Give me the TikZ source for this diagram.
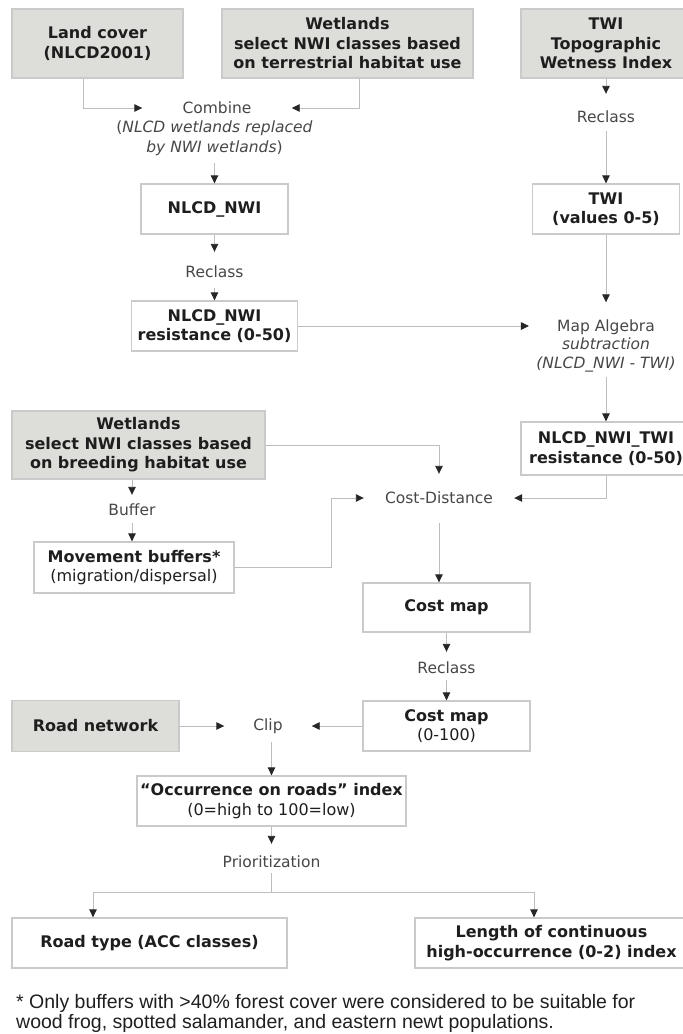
\documentclass[tikz,border=0pt]{standalone}
\usepackage{fontspec}
\setmainfont{DejaVu Sans}
\newfontfamily\notefont{Liberation Sans}
\usetikzlibrary{arrows.meta,calc}
\definecolor{linegray}{HTML}{BDBDBD}
\definecolor{boxline}{HTML}{CACACA}
\definecolor{boxfill}{HTML}{DDDDD9}
\definecolor{optext}{HTML}{474747}
\definecolor{boldtext}{HTML}{1E1E1E}
\begin{document}
\begin{tikzpicture}[x=1pt,y=-1pt,
  font=\fontsize{15.5}{19.5}\selectfont,
  box/.style={draw=boxline, line width=1.3pt, fill=white, align=center, inner sep=0pt,
    text=boldtext, font=\fontsize{16}{19.5}\selectfont\bfseries},
  inbox/.style={box, fill=boxfill},
  sz/.style 2 args={minimum width=#1pt, minimum height=#2pt},
  op/.style={inner sep=0pt, text=optext, align=center},
  arr/.style={draw=linegray, line width=0.9pt, -{Triangle[length=8pt,width=7.5pt,color=black!85]}},
  ln/.style={draw=linegray, line width=0.9pt}
]
\clip (0,0) rectangle (683,1034);
\fill[white] (0,0) rectangle (683,1034);

% input boxes
\node[inbox, sz={171}{69}] (land) at (97.5,43.5) {Land cover\\(NLCD2001)};
\node[inbox, sz={251}{69}] (wetT) at (347.5,43.5) {Wetlands\\select NWI classes based\\on terrestrial habitat use};
\node[inbox, sz={170}{69}] (twi) at (606,43.5) {TWI\\Topographic\\Wetness Index};
\node[inbox, sz={253}{68}] (wetB) at (138.5,445) {Wetlands\\select NWI classes based\\on breeding habitat use};
\node[inbox, sz={167}{51}] (road) at (95.5,726) {Road network};

% result boxes
\node[box, sz={147}{50}] (nlcdnwi) at (214.5,209) {NLCD\_NWI};
\node[box, sz={166}{50}] (nlcdres) at (214.5,326) {NLCD\_NWI\\resistance (0-50)};
\node[box, sz={147}{50}] (twiv) at (606,209) {TWI\\(values 0-5)};
\node[box, sz={170}{53}] (ntres) at (606,448.5) {NLCD\_NWI\_TWI\\resistance (0-50)};
\node[box, sz={200}{51}] (move) at (134,567.5) {Movement buffers*\\{\mdseries (migration/dispersal)}};
\node[box, sz={167}{49}] (cost1) at (446.5,607.5) {Cost map};
\node[box, sz={167}{50}] (cost2) at (446.5,726) {Cost map\\{\mdseries (0-100)}};
\node[box, sz={269}{50}] (occ) at (271.5,801) {“Occurrence on roads” index\\{\mdseries (0=high to 100=low)}};
\node[box, sz={275}{50}] (rtype) at (149.5,943) {Road type (ACC classes)};
\node[box, sz={273}{50}] (length) at (551.5,943) {Length of continuous\\high-occurrence (0-2) index};

% operations
\node[op, minimum width=149pt] (comb) at (217,108) {Combine};
\node[op] (combsub) at (214.5,138) {(\textit{NLCD wetlands replaced}\\\textit{by NWI wetlands})};
\node[op] (rc1) at (606,117) {Reclass};
\node[op] (rc2) at (214.5,272) {Reclass};
\node[op] (ma1) at (606,327) {Map Algebra};
\node[op] (ma2) at (606,355) {\textit{subtraction}\\\textit{(NLCD\_NWI - TWI)}};
\node[op, minimum width=150pt] (costd) at (439,498) {Cost-Distance};
\node[op] (buf) at (132,510) {Buffer};
\node[op] (rc3) at (446.5,668) {Reclass};
\node[op, minimum width=87pt] (clip) at (268,726) {Clip};
\node[op] (prio) at (271.5,862) {Prioritization};
\coordinate (branch) at (271.5,892);

% connectors
\draw[arr] ([xshift=-14.5pt]land.south) |- (comb.west);
\draw[arr] ([xshift=11.5pt]wetT.south) |- (comb.east);
\draw[arr, shorten <=8pt] (combsub.south) -- (combsub.south |- nlcdnwi.north);
\draw[arr, shorten >=14pt] (nlcdnwi.south) -- (rc2.north);
\draw[arr, shorten <=10pt] (rc2.south) -- (nlcdres.north);
\draw[arr, shorten >=28pt] (nlcdres.east) -- (nlcdres.east -| ma1.west);
\draw[arr, shorten >=17pt] (twi.south) -- (rc1.north);
\draw[arr, shorten <=8pt] (rc1.south) -- (twiv.north);
\draw[arr, shorten >=17pt] (twiv.south) -- (ma1.north);
\draw[arr, shorten <=4pt] (ma2.south) -- (ntres.north);
\draw[arr] (ntres.south) |- (costd.east);
\draw[arr, shorten >=18pt] (wetB.east) -| (costd.north);
\draw[arr] (move.east) -- ++(97,0) |- (costd.west);
\draw[arr, shorten >=9pt] (buf.north |- wetB.south) -- (buf.north);
\draw[arr, shorten <=7pt] (buf.south) -- (buf.south |- move.north);
\draw[arr, shorten <=19pt] (costd.south) -- (costd.south |- cost1.north);
\draw[arr, shorten >=10pt] (cost1.south) -- (rc3.north);
\draw[arr, shorten <=6pt] (rc3.south) -- (cost2.north);
\draw[arr] (road.east) -- (road.east -| clip.west);
\draw[arr] (cost2.west) -- (cost2.west -| clip.east);
\draw[arr, shorten <=8pt] (occ.north |- clip.south) -- (occ.north);
\draw[arr, shorten >=12pt] (occ.south) -- (prio.north);
\draw[ln, shorten <=5pt] (prio.south) -- (branch);
\draw[arr] (branch) -| ([xshift=-56.5pt]rtype.north);
\draw[arr] (branch) -| ([xshift=-17.5pt]length.north);

% footnote
\node[anchor=north west, inner sep=0pt, align=left, text=black!88,
  font=\notefont\fontsize{19.5}{20.5}\selectfont] (note) at (16,994)
  {* Only buffers with >40\% forest cover were considered to be suitable for\\wood frog, spotted salamander, and eastern newt populations.};
\end{tikzpicture}
\end{document}
